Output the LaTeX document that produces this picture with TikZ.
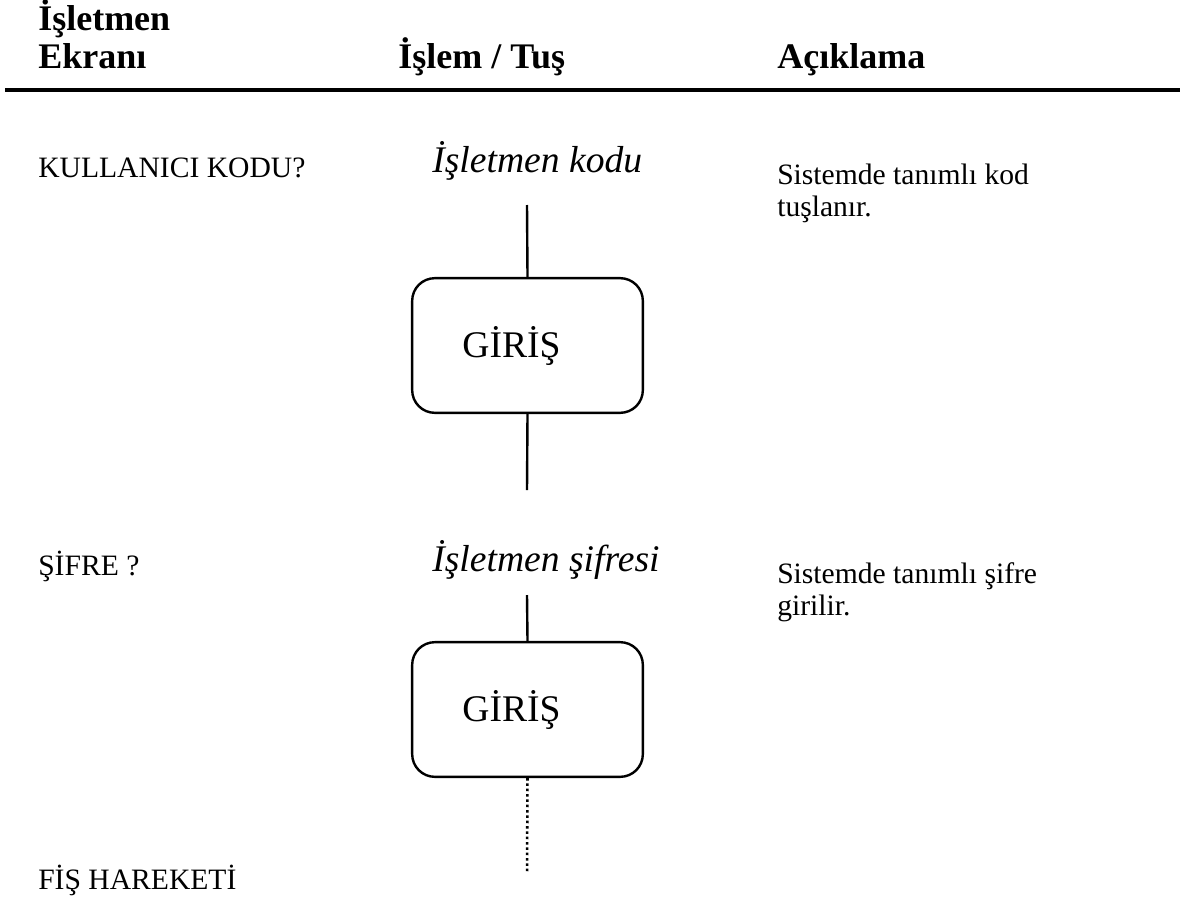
\documentclass[tikz,border=0pt]{standalone}
\usepackage{fontspec}
\setmainfont{Liberation Serif}
\begin{document}
\begin{tikzpicture}[x=0.75pt,y=-0.75pt,
  hdr/.style={anchor=base west,inner sep=0pt,font=\fontsize{27}{31}\selectfont\bfseries},
  body/.style={anchor=base west,inner sep=0pt,font=\fontsize{22.2}{24}\selectfont},
  desc/.style={anchor=base west,inner sep=0pt,align=left,font=\fontsize{22.2}{23.5}\selectfont},
  act/.style={anchor=base west,inner sep=0pt,font=\fontsize{28.2}{32}\selectfont\itshape},
  keybox/.style={draw,line width=1.8pt,rounded corners=17pt,minimum width=173pt,minimum height=101pt,inner sep=0pt,font=\fontsize{28.2}{32}\selectfont},
  conn/.style={line width=1.8pt},
  dotconn/.style={line width=1.9pt,dash pattern=on 1.9pt off 2.1pt}]
\useasboundingbox (0,0) rectangle (1180,906);
% header
\node[hdr] (h1) at (38,31) {İşletmen};
\node[hdr] (h2) at (38,69) {Ekranı};
\node[hdr] (h3) at (398,69) {İşlem / Tuş};
\node[hdr] (h4) at (777,69) {Açıklama};
\coordinate (rl) at (5,90);
\coordinate (rr) at (1180,90);
\draw[line width=3.2pt] (rl) -- (rr);
% row 1
\node[body] (s1) at (38,177) {KULLANICI KODU?};
\node[act] (a1) at (432,172) {İşletmen kodu};
\node[desc] (d1) at (777,216) {Sistemde tanımlı kod\\tuşlanır.};
\node[keybox] (b1) at (527.5,345.5) {GİRİŞ\hspace*{24pt}};
\coordinate (t1) at (527,205);
\coordinate (e1) at (527,490);
\draw[conn] (t1) -- (b1.north);
\draw[conn] (b1.south) -- (e1);
% row 2
\node[body] (s2) at (38,575) {ŞİFRE ?};
\node[act] (a2) at (432,571) {İşletmen şifresi};
\node[desc] (d2) at (777,615) {Sistemde tanımlı şifre\\girilir.};
\node[keybox] (b2) at (527.5,709.5) {GİRİŞ\hspace*{24pt}};
\coordinate (t2) at (527,595);
\coordinate (e2) at (527,873);
\draw[conn] (t2) -- (b2.north);
\draw[dotconn] (b2.south) -- (e2);
% row 3
\node[body] (s3) at (38,889) {FİŞ HAREKETİ};
\end{tikzpicture}
\end{document}
